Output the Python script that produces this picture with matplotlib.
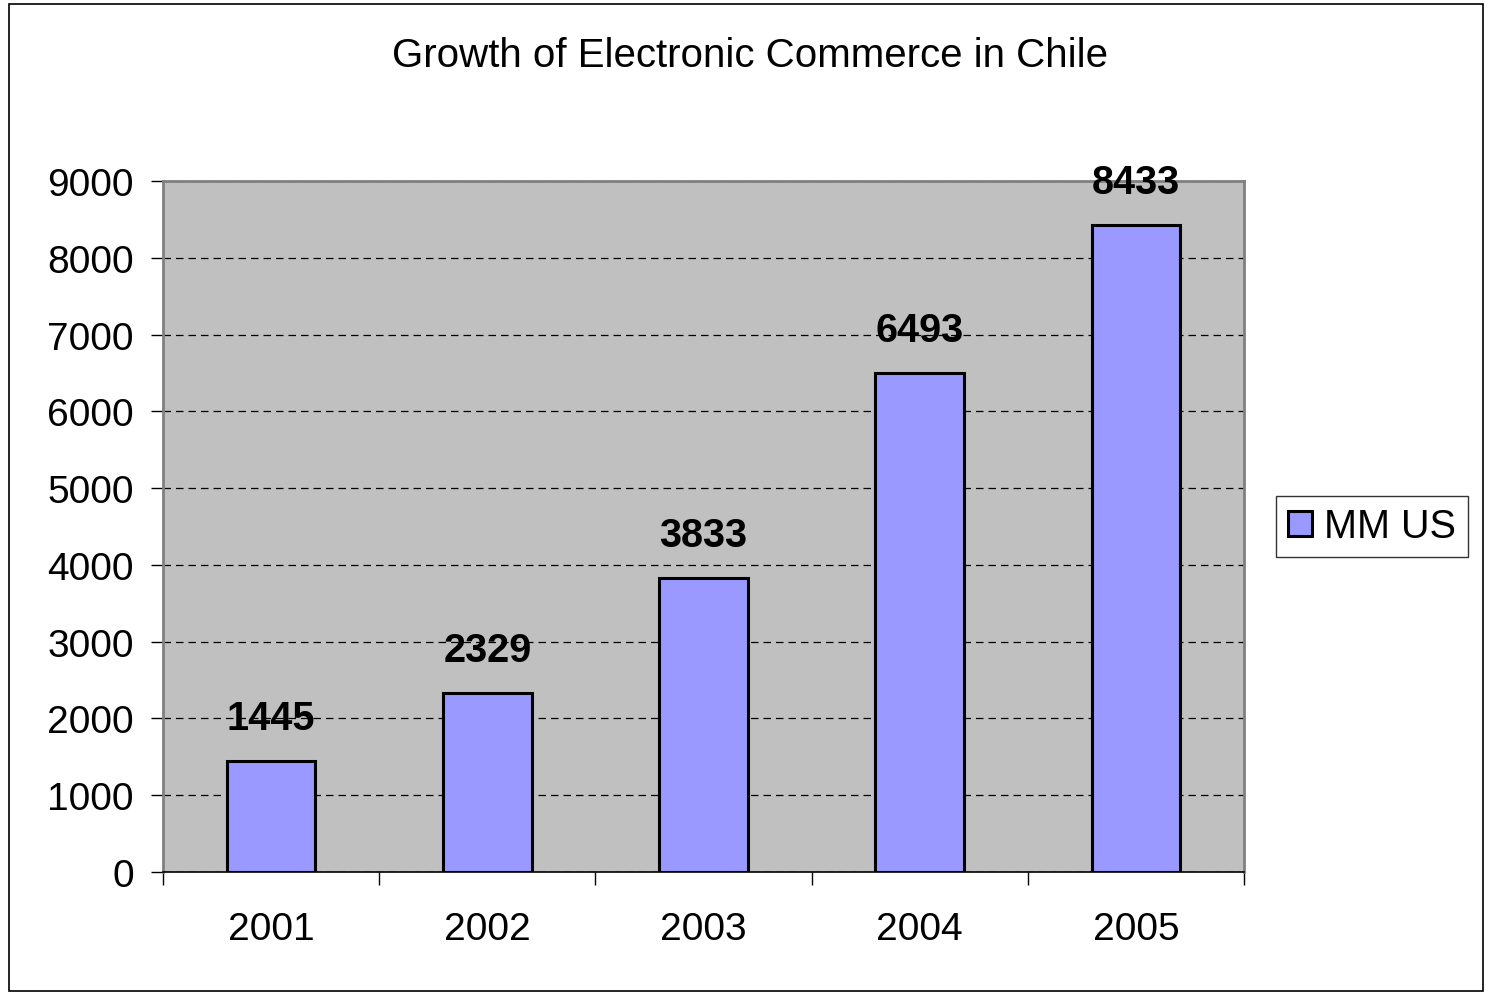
import matplotlib.pyplot as plt
import matplotlib as mpl
from matplotlib.patches import Rectangle
import numpy as np

years = ['2001', '2002', '2003', '2004', '2005']
values = [1445, 2329, 3833, 6493, 8433]
series_name = 'MM US'
title = 'Growth of Electronic Commerce in Chile'

mpl.rcParams['font.family'] = ['Liberation Sans', 'DejaVu Sans']

fig = plt.figure(figsize=(14.86, 9.95), dpi=100)
ax = fig.add_axes([0.1097, 0.1226, 0.7274, 0.6945])
ax.set_facecolor('#C0C0C0')

x = np.arange(len(years))
bars = ax.bar(x, values, width=0.41, color='#9999FF', edgecolor='black',
              linewidth=2.2, label=series_name, zorder=3)

for xi, v in zip(x, values):
    ax.text(xi, v + 560, str(v), ha='center', va='center', fontsize=28.5,
            fontweight='bold', zorder=4)

ax.set_xlim(-0.5, len(years) - 0.5)
ax.set_ylim(0, 9000)
ax.set_yticks(np.arange(0, 9001, 1000))
ax.yaxis.grid(True, color='black', linestyle=(0, (6, 4)), linewidth=0.9, zorder=1)

# category labels between boundary ticks
ax.set_xticks(np.arange(-0.5, len(years), 1))
ax.set_xticklabels([])
ax.set_xticks(x, minor=True)
ax.set_xticklabels(years, minor=True)
ax.tick_params(axis='x', which='minor', length=0, pad=28, labelsize=28)
ax.tick_params(axis='x', which='major', length=9, width=1, direction='out')
ax.tick_params(axis='y', length=9, width=1, direction='out', labelsize=28, pad=12)

for s in ['top', 'left', 'right']:
    ax.spines[s].set_color('#808080')
    ax.spines[s].set_linewidth(2)
ax.spines['bottom'].set_color('black')
ax.spines['bottom'].set_linewidth(1.2)

leg = ax.legend(loc='center left', bbox_to_anchor=(1.03, 0.5), fontsize=28.5,
                frameon=True, fancybox=False, edgecolor='black',
                handlelength=0.6, handleheight=0.6, handletextpad=0.3,
                borderpad=0.3, borderaxespad=0)
leg.get_frame().set_linewidth(1)

fig.text(0.505, 0.944, title, ha='center', va='center', fontsize=29)

fig.patches.append(Rectangle((0.006, 0.003), 0.992, 0.992, transform=fig.transFigure,
                             fill=False, edgecolor='black', linewidth=1.2))

fig.savefig('out.png', dpi=100)
